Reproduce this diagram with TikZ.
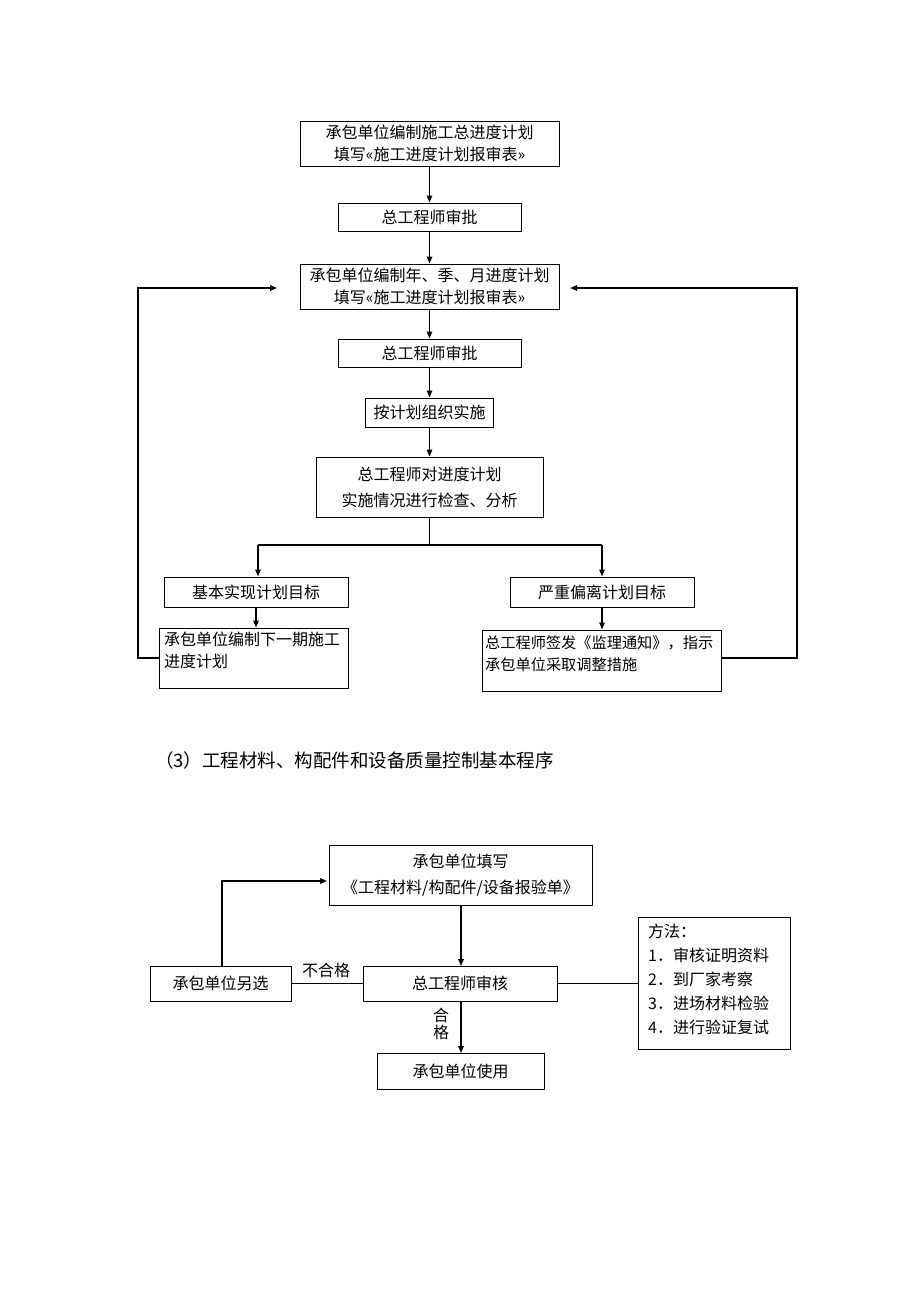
\documentclass[tikz,border=0pt]{standalone}
\usepackage{fontspec}
\setmainfont{Noto Sans CJK SC}
\usetikzlibrary{arrows.meta}
\tikzset{
  bx/.style={draw, line width=1pt, inner sep=0pt, align=center, font=\fontsize{16}{26}\selectfont},
  lbl/.style={inner sep=0pt, font=\fontsize{16}{22}\selectfont},
  arr/.style={line width=1.4pt, -{Triangle[length=7pt,width=5.5pt]}},
  ln/.style={line width=1.2pt},
}
\begin{document}
\begin{tikzpicture}[x=1pt,y=-1pt]
\useasboundingbox (0,0) rectangle (920,1302);
% upper chart
\node[bx, minimum width=259pt, minimum height=45pt] (b1) at (429.5,143.5) {承包单位编制施工总进度计划\\[-4pt]填写«施工进度计划报审表»};
\node[bx, minimum width=183pt, minimum height=28pt] (b2) at (429.5,217) {总工程师审批};
\node[bx, minimum width=259pt, minimum height=45pt] (b3) at (429.5,286.5) {承包单位编制年、季、月进度计划\\[-4pt]填写«施工进度计划报审表»};
\node[bx, minimum width=183pt, minimum height=28pt] (b4) at (429.5,353) {总工程师审批};
\node[bx, minimum width=128pt, minimum height=29pt] (b5) at (429.5,412.5) {按计划组织实施};
\node[bx, minimum width=227pt, minimum height=60pt] (b6) at (429.5,487) {总工程师对进度计划\\实施情况进行检查、分析};
\node[bx, minimum width=184pt, minimum height=30pt] (b7) at (256,592) {基本实现计划目标};
\node[bx, minimum width=184pt, minimum height=30pt] (b8) at (602,592) {严重偏离计划目标};
\node[bx, minimum width=189pt, minimum height=60pt] (b9) at (253.5,658) {};
\node[lbl, anchor=north west, align=left] (b9t) at (164,632) {承包单位编制下一期施工\\进度计划};
\node[bx, minimum width=239pt, minimum height=61pt] (b10) at (601.5,660.5) {};
\node[lbl, anchor=north west, align=left, font=\fontsize{15.2}{22}\selectfont] (b10t) at (485,635) {总工程师签发《监理通知》，指示\\承包单位采取调整措施};

\draw[arr] (b1.south) -- (b2.north);
\draw[arr] (b2.south) -- (b3.north);
\draw[arr] (b3.south) -- (b4.north);
\draw[arr] (b4.south) -- (b5.north);
\draw[arr] (b5.south) -- (b6.north);
\coordinate (sp) at (429.5,545);
\coordinate (spl) at (258,545);
\coordinate (spr) at (602,545);
\draw[ln] (b6.south) -- (sp);
\draw[ln] (spl) -- (spr);
\draw[arr] (spl) -- (spl |- b7.north);
\draw[arr] (spr) -- (spr |- b8.north);
\draw[arr] (b7.south) -- (b7.south |- b9.north);
\draw[arr] (b8.south) -- (b8.south |- b10.north);
\coordinate (lt) at (277,288);
\coordinate (rt) at (570,288);
\coordinate (rs) at (721.5,658);
\draw[arr] (b9.west) -- (138,658) -- (138,288) -- (lt);
\draw[arr] (rs) -- (797,658) -- (797,288) -- (rt);

% heading
\node[anchor=west, inner sep=0pt, font=\fontsize{18.5}{20}\selectfont] (hd) at (155,760) {（3）工程材料、构配件和设备质量控制基本程序};

% lower chart
\node[bx, minimum width=263pt, minimum height=60pt] (bA) at (460.5,875) {承包单位填写\\《工程材料/构配件/设备报验单》};
\node[bx, minimum width=194pt, minimum height=35pt] (bB) at (460,983.5) {总工程师审核};
\node[bx, minimum width=141pt, minimum height=35pt] (bC) at (220.5,983.5) {承包单位另选};
\node[bx, minimum width=167pt, minimum height=36pt] (bD) at (460.5,1071) {承包单位使用};
\node[bx, minimum width=152pt, minimum height=132pt] (bE) at (714,983) {};
\node[lbl, anchor=north west, align=left, font=\fontsize{16}{24}\selectfont] (bEt) at (648,924) {方法：\\1．审核证明资料\\2．到厂家考察\\3．进场材料检验\\4．进行验证复试};

\draw[arr] (461,905) -- (461,966);
\draw[ln] (bC.east) -- (bB.west);
\node[lbl] (nq) at (326,970) {不合格};
\coordinate (ca) at (327,881);
\draw[arr] (222,966) -- (222,881) -- (ca);
\draw[arr] (461,1001) -- (461,1053);
\node[lbl, align=center, font=\fontsize{16}{17}\selectfont] (hg) at (441,1024) {合\\格};
\draw[ln] (bB.east) -- (bE.west |- bB.east);
\end{tikzpicture}
\end{document}
